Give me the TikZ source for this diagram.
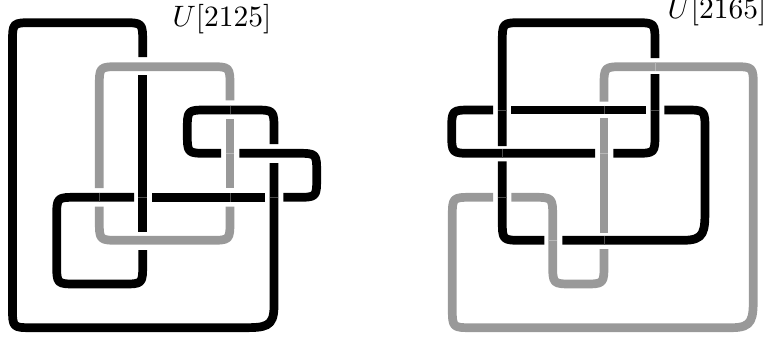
\documentclass[tikz,border=0pt]{standalone}
\usetikzlibrary{calc}
\definecolor{strandgray}{gray}{0.6}
\definecolor{seamondark}{gray}{0.3}
\definecolor{seamongray}{gray}{0.72}
\tikzset{
  strand/.style={line width=8.7pt,line cap=butt,line join=round},
  blackstrand/.style={strand,draw=black},
  graystrand/.style={strand,draw=strandgray},
  seamdark/.style={line width=0.4pt,draw=seamondark},
  seamlight/.style={line width=0.4pt,draw=seamongray},
  label/.style={inner sep=0pt,anchor=base west,scale=2.95}
}
% corner at (#1,#2): coming in along direction (#3,#4), leaving along (#5,#6)
\newcommand{\crn}[6]{ -- ($(#1,#2)-20*(#3,#4)$) .. controls (#1,#2) and (#1,#2) .. ($(#1,#2)+20*(#5,#6)$)}
\newcommand{\crnlong}[6]{ -- ($(#1,#2)-34*(#3,#4)$) .. controls ($(#1,#2)-8*(#3,#4)$) and (#1,#2) .. ($(#1,#2)+22*(#5,#6)$)}
\begin{document}
\begin{tikzpicture}[x=1pt,y=-1pt]
\useasboundingbox (0,0) rectangle (766,338);
\clip (0,0) rectangle (766,338);
% left knot
\draw[blackstrand] (142.7,57) \crn{142.7}{22.7}{0}{-1}{-1}{0} \crn{12.5}{22.7}{-1}{0}{0}{1} \crn{12.5}{327.7}{0}{1}{1}{0} \crnlong{274}{327.7}{1}{0}{0}{-1} -- (274,163);
\draw[blackstrand] (274,144) \crn{274}{110}{0}{-1}{-1}{0} \crn{187.3}{110}{-1}{0}{0}{1} \crn{187.3}{153.3}{0}{1}{1}{0} -- (221,153.3);
\draw[blackstrand] (239.3,153.3) \crn{316.7}{153.3}{1}{0}{0}{1} \crn{316.7}{197.3}{0}{1}{-1}{0} -- (283.3,197.3);
\draw[blackstrand] (265,197.3) -- (152.3,197.3);
\draw[blackstrand] (134,197.3) \crn{56.7}{197.3}{-1}{0}{0}{1} \crn{56.7}{284}{0}{1}{1}{0} \crn{142.7}{284}{1}{0}{0}{-1} -- (142.7,250);
\draw[blackstrand] (142.7,231.7) -- (142.7,75.3);
\draw[graystrand] (99.3,188) \crn{99.3}{66.7}{0}{-1}{1}{0} \crn{230}{66.7}{1}{0}{0}{1} -- (230,100.3);
\draw[graystrand] (230,119) -- (230,188);
\draw[graystrand] (230,206.7) \crn{230}{240.3}{0}{1}{-1}{0} \crn{99.3}{240.3}{-1}{0}{0}{-1} -- (99.3,206.7);
\draw[seamdark] (99.3,193) -- (99.3,201.6);
\draw[seamdark] (138.4,197.3) -- (147,197.3);
\draw[seamdark] (230,193) -- (230,201.6);
\draw[seamdark] (269.7,197.3) -- (278.3,197.3);
\draw[seamlight] (225.7,153.3) -- (234.3,153.3);
\draw[seamdark] (230,105.7) -- (230,114.3);
\node[label] (lefttitle) at (172,26) {$U[2125]$};
% right knot
\draw[blackstrand] (502.3,146) \crn{502.3}{22.7}{0}{-1}{1}{0} \crn{655}{22.7}{1}{0}{0}{1} -- (655,58);
\draw[blackstrand] (655,74) \crn{655}{153.3}{0}{1}{-1}{0} -- (613.3,153.3);
\draw[blackstrand] (595,153.3) \crn{451.7}{153.3}{-1}{0}{0}{-1} \crn{451.7}{110}{0}{-1}{1}{0} -- (493,110);
\draw[blackstrand] (511.3,110) -- (646,110);
\draw[blackstrand] (664.3,110) \crn{705}{110}{1}{0}{0}{1} \crnlong{705}{240.3}{0}{1}{-1}{0} -- (562.3,240.3);
\draw[blackstrand] (544.3,240.3) \crn{502.3}{240.3}{-1}{0}{0}{-1} -- (502.3,161.3);
\draw[graystrand] (604,101.7) \crn{604}{66.7}{0}{-1}{1}{0} \crn{753.3}{66.7}{1}{0}{0}{1} \crnlong{753.3}{327.7}{0}{1}{-1}{0} \crn{452.3}{327.7}{-1}{0}{0}{-1} \crn{452.3}{197.3}{0}{-1}{1}{0} -- (493,197.3);
\draw[graystrand] (511.3,197.3) \crn{552.7}{197.3}{1}{0}{0}{1} \crn{552.7}{284}{0}{1}{1}{0} \crn{604}{284}{1}{0}{0}{-1} -- (604,249);
\draw[graystrand] (604,232.7) -- (604,117.7);
\draw[seamdark] (498,110) -- (506.6,110);
\draw[seamdark] (604,105.7) -- (604,114.3);
\draw[seamdark] (650.7,110) -- (659.3,110);
\draw[seamlight] (655,62.4) -- (655,71);
\draw[seamlight] (599.7,153.3) -- (608.3,153.3);
\draw[seamdark] (502.3,149) -- (502.3,157.6);
\draw[seamdark] (498,197.3) -- (506.6,197.3);
\draw[seamlight] (548.4,240.3) -- (557,240.3);
\draw[seamdark] (604,236) -- (604,244.6);
\node[label] (righttitle) at (667,18) {$U[2165]$};
\end{tikzpicture}
\end{document}
